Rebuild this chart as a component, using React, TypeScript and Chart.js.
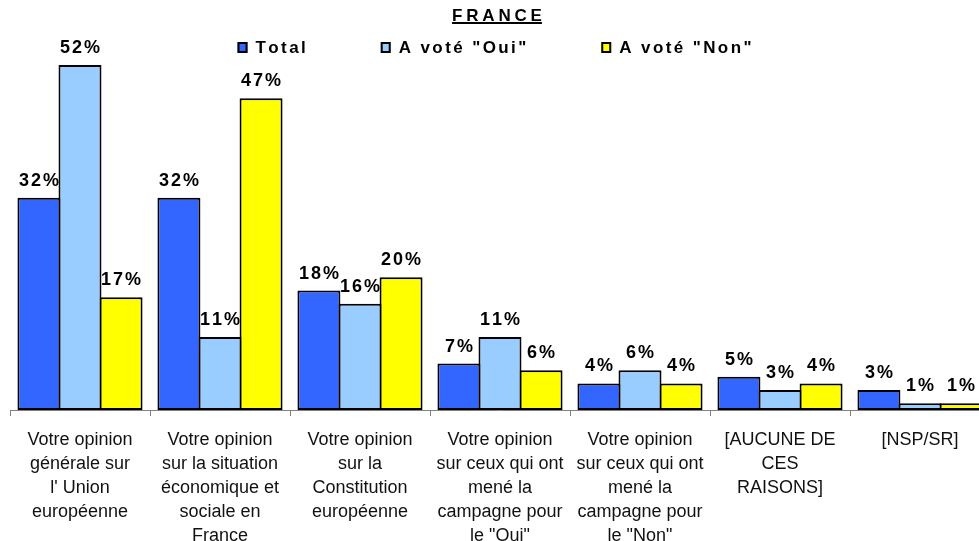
import React, { useEffect, useRef } from "react";
import { Chart, registerables } from "chart.js";

Chart.register(...registerables);

const chartTitle = "FRANCE";
const categories: string[][] = [
  ["Votre opinion", "générale sur", "l' Union", "européenne"],
  ["Votre opinion", "sur la situation", "économique et", "sociale en", "France"],
  ["Votre opinion", "sur la", "Constitution", "européenne"],
  ["Votre opinion", "sur ceux qui ont", "mené la", "campagne pour", 'le "Oui"'],
  ["Votre opinion", "sur ceux qui ont", "mené la", "campagne pour", 'le "Non"'],
  ["[AUCUNE DE", "CES", "RAISONS]"],
  ["[NSP/SR]"],
];
const seriesNames = ["Total", 'A voté "Oui"', 'A voté "Non"'];
const totalValues = [32, 32, 18, 7, 4, 5, 3];
const ouiValues = [52, 11, 16, 11, 6, 3, 1];
const nonValues = [17, 47, 20, 6, 4, 4, 1];
const seriesColors = ["#3366FF", "#99CCFF", "#FFFF00"];

const FONT = "'Liberation Sans', Arial, Helvetica, sans-serif";

function spacedWidth(ctx: CanvasRenderingContext2D, text: string, spacing: number) {
  let w = 0;
  for (let i = 0; i < text.length; i++) {
    w += ctx.measureText(text[i]).width;
    if (i < text.length - 1) w += spacing;
  }
  return w;
}

function drawSpaced(ctx: CanvasRenderingContext2D, text: string, x: number, y: number, spacing: number) {
  let cx = x;
  ctx.textAlign = "left";
  for (let i = 0; i < text.length; i++) {
    ctx.fillText(text[i], cx, y);
    cx += ctx.measureText(text[i]).width + spacing;
  }
}

const titleLegendPlugin = {
  id: "titleLegend",
  afterDraw(chart: any) {
    const ctx: CanvasRenderingContext2D = chart.ctx;
    ctx.save();
    ctx.fillStyle = "#000";
    ctx.textBaseline = "alphabetic";
    // title
    ctx.font = `bold 17px ${FONT}`;
    const tSpacing = 3.8;
    const tw = spacedWidth(ctx, chartTitle, tSpacing);
    const cx = 497;
    drawSpaced(ctx, chartTitle, cx - tw / 2, 21, tSpacing);
    ctx.fillRect(cx - tw / 2, 22, tw, 2);

    // legend
    ctx.font = `bold 17px ${FONT}`;
    const lSpacing = 2.4;
    const boxW = 10;
    const boxH = 11;
    const boxToText = 18;
    const itemGap = 75;
    const datasets = chart.data.datasets;
    const widths = datasets.map((d: any) => boxToText + spacedWidth(ctx, d.label, lSpacing));
    const total = widths.reduce((a: number, b: number) => a + b, 0) + itemGap * (datasets.length - 1);
    let x = 494.5 - total / 2;
    datasets.forEach((d: any, i: number) => {
      ctx.fillStyle = d.backgroundColor;
      ctx.fillRect(x, 42, boxW, boxH);
      ctx.strokeStyle = "#000";
      ctx.lineWidth = 2;
      ctx.strokeRect(x + 1, 43, boxW - 2, boxH - 2);
      ctx.fillStyle = "#000";
      drawSpaced(ctx, d.label, x + boxToText, 53, lSpacing);
      x += widths[i] + itemGap;
    });
    ctx.restore();
  },
};

const dataLabelPlugin = {
  id: "dataLabels",
  afterDatasetsDraw(chart: any) {
    const ctx: CanvasRenderingContext2D = chart.ctx;
    ctx.save();
    ctx.font = `bold 18px ${FONT}`;
    ctx.fillStyle = "#000";
    ctx.textBaseline = "alphabetic";
    const spacing = 2;
    chart.data.datasets.forEach((ds: any, di: number) => {
      const meta = chart.getDatasetMeta(di);
      meta.data.forEach((el: any, i: number) => {
        const text = `${ds.data[i]}%`;
        const w = spacedWidth(ctx, text, spacing);
        drawSpaced(ctx, text, el.x - w / 2, el.y - 12, spacing);
      });
    });
    ctx.restore();
  },
};

export default function App() {
  const canvasRef = useRef<HTMLCanvasElement | null>(null);

  useEffect(() => {
    if (!canvasRef.current) return;
    const seriesValues = [totalValues, ouiValues, nonValues];
    const chart = new Chart(canvasRef.current, {
      type: "bar",
      data: {
        labels: categories,
        datasets: seriesNames.map((name, i) => ({
          label: name,
          data: seriesValues[i],
          backgroundColor: seriesColors[i],
          borderColor: "#000",
          borderWidth: 2,
          borderSkipped: false,
          categoryPercentage: 0.88,
          barPercentage: 1.047,
        })),
      },
      options: {
        responsive: false,
        animation: false,
        devicePixelRatio: 1,
        layout: { padding: { left: 10, right: 10, top: 12, bottom: 0 } },
        plugins: {
          legend: { display: false },
          title: { display: false },
          tooltip: { enabled: false },
        },
        scales: {
          y: { display: false, min: 0, max: 60 },
          x: {
            grid: {
              display: true,
              drawOnChartArea: false,
              drawTicks: true,
              tickLength: 6,
              color: "#808080",
              offset: true,
            },
            border: { display: true, color: "#808080", width: 1 },
            ticks: {
              autoSkip: false,
              maxRotation: 0,
              minRotation: 0,
              padding: 12,
              color: "#111",
              font: { family: FONT, size: 18, lineHeight: 24 / 18 },
            },
          },
        },
      },
      plugins: [dataLabelPlugin, titleLegendPlugin],
    });
    return () => chart.destroy();
  }, []);

  return (
    <div
      style={{
        position: "absolute",
        left: 0,
        top: 0,
        width: 979,
        height: 541,
        overflow: "hidden",
        background: "#fff",
      }}
    >
      <canvas ref={canvasRef} width={1000} height={560} style={{ display: "block" }} />
    </div>
  );
}
